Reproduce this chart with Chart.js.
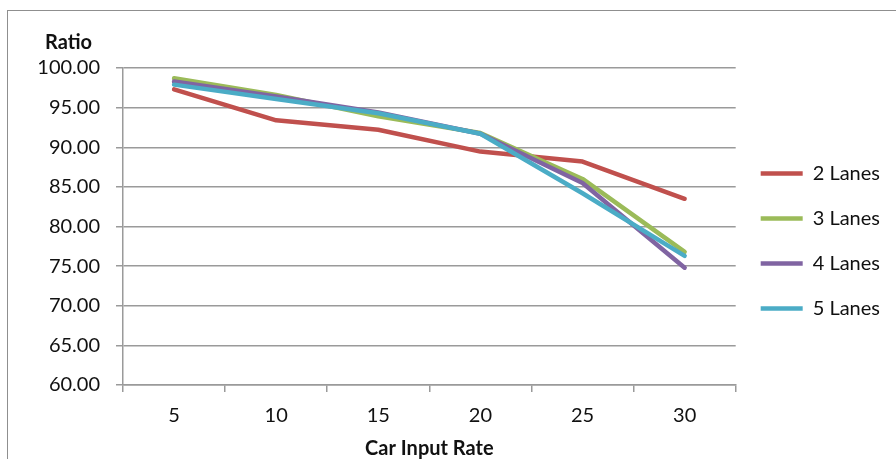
<!DOCTYPE html>
<html>
<head>
<meta charset="utf-8">
<script src="https://cdn.jsdelivr.net/npm/chart.js@4"></script>
<style>
  body { margin: 0; background: #fff; }
  #frame { position: absolute; left: 7px; top: 10px; width: 1000px; height: 600px; border: 1px solid #8f8f8f; }
  #wrap { position: absolute; left: 0; top: 0; width: 896px; height: 459px; }
</style>
</head>
<body>
<div id="frame"></div>
<div id="wrap"><canvas id="mycanvas" width="896" height="459"></canvas></div>
<script>
var rates = ['5', '10', '15', '20', '25', '30'];
var lanes2 = [97.3, 93.4, 92.2, 89.45, 88.2, 83.5];
var lanes3 = [98.7, 96.6, 93.9, 91.8, 86.0, 76.8];
var lanes4 = [98.3, 96.4, 94.4, 91.7, 85.5, 74.8];
var lanes5 = [97.9, 96.1, 94.3, 91.7, 84.2, 76.3];
var seriesNames = ['2 Lanes', '3 Lanes', '4 Lanes', '5 Lanes'];
var colors = ['#C0504D', '#9BBB59', '#8064A2', '#4BACC6'];

var font = 'Lato';
var gridColor = '#9a9a9a';

function line(i, values) {
  return {
    label: seriesNames[i],
    data: values,
    borderColor: colors[i],
    backgroundColor: colors[i],
    borderWidth: 4.5,
    borderCapStyle: 'round',
    borderJoinStyle: 'round',
    pointRadius: 0,
    tension: 0,
    order: 3 - i   // later series drawn on top, like the original
  };
}

// nudge the "Ratio" title right so it sits over the tick labels
var titleShift = {
  id: 'titleShift',
  afterLayout: function(chart) {
    chart.titleBlock.left += 15;
    chart.titleBlock.right += 15;
  }
};

var ctx = document.getElementById('mycanvas');

var chart = new Chart(ctx, {
  type: 'line',
  data: {
    labels: rates,
    datasets: [line(0, lanes2), line(1, lanes3), line(2, lanes4), line(3, lanes5)]
  },
  plugins: [titleShift],
  options: {
    responsive: false,
    animation: false,
    layout: { padding: { left: 30, top: 23, right: 6, bottom: 0 } },
    plugins: {
      tooltip: { enabled: false },
      title: {
        display: true,
        text: 'Ratio',
        align: 'start',
        color: '#111',
        font: { family: font, size: 20, weight: 'bold' },
        padding: { top: 8, bottom: 13 }
      },
      legend: {
        position: 'right',
        labels: {
          usePointStyle: true,
          pointStyle: 'line',
          pointStyleWidth: 42,
          padding: 25,
          color: '#111',
          font: { family: font, size: 20 },
          sort: function(a, b) { return a.datasetIndex - b.datasetIndex; }
        }
      }
    },
    scales: {
      x: {
        offset: true,
        grid: { offset: true, drawOnChartArea: false, color: gridColor, lineWidth: 1.5, tickLength: 7 },
        border: { color: gridColor, width: 1.5 },
        ticks: { color: '#111', font: { family: font, size: 20 }, padding: 12, maxRotation: 0 },
        title: {
          display: true,
          text: 'Car Input Rate',
          color: '#111',
          font: { family: font, size: 20, weight: 'bold', lineHeight: 1 },
          padding: { top: 0, bottom: 0 }
        },
        afterFit: function(scale) { scale.height = 74; }
      },
      y: {
        min: 60,
        max: 100,
        grid: { color: gridColor, lineWidth: 1.5, tickLength: 7 },
        border: { color: gridColor, width: 1.5 },
        ticks: {
          stepSize: 5,
          color: '#111',
          padding: 16,
          font: { family: font, size: 20 },
          callback: function(v) { return v.toFixed(2); }
        },
        afterFit: function(scale) { scale.width = 93; }
      }
    }
  }
});
</script>
</body>
</html>
